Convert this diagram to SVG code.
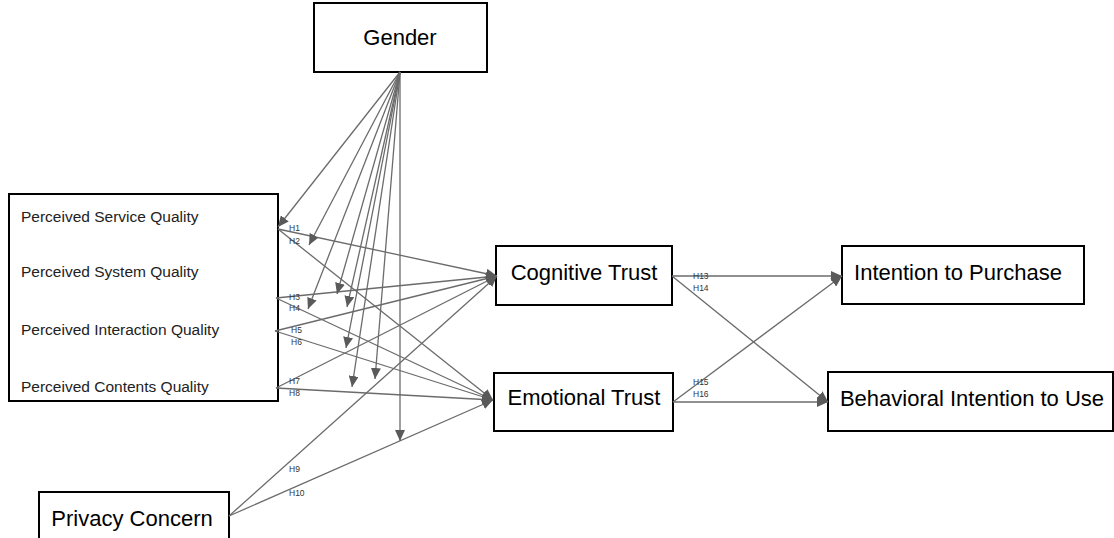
<svg xmlns="http://www.w3.org/2000/svg" width="1114" height="538" viewBox="0 0 1114 538">
<style>
.box{fill:#fff;stroke:#000;stroke-width:2}
.big{font-family:"Liberation Sans",Arial,sans-serif;font-size:22px;fill:#000}
.small{font-family:"Liberation Sans",Arial,sans-serif;font-size:15.5px;fill:#222}
.h{font-family:"Liberation Sans",Arial,sans-serif;font-size:8.5px;fill:#333}
.c{fill:none;stroke:#6b6b6b;stroke-width:1.3;marker-end:url(#ah)}
</style>
<defs>
<marker id="ah" markerUnits="userSpaceOnUse" markerWidth="12" markerHeight="10" refX="11" refY="5" orient="auto">
<path d="M0,0 L11,5 L0,10 Z" fill="#5a5a5a"/>
</marker>
</defs>
<rect width="1114" height="538" fill="#fff"/>
<g id="gender"><rect class="box" x="314" y="3" width="173" height="69"/><text class="big" x="400" y="45" text-anchor="middle">Gender</text></g>
<g id="quality"><rect class="box" x="9" y="194" width="269" height="207"/>
<text class="small" x="21" y="222">Perceived Service Quality</text>
<text class="small" x="21" y="277">Perceived System Quality</text>
<text class="small" x="21" y="335">Perceived Interaction Quality</text>
<text class="small" x="21" y="392">Perceived Contents Quality</text></g>
<g id="privacy"><rect class="box" x="39" y="492" width="190" height="60"/><text class="big" x="132" y="526" text-anchor="middle">Privacy Concern</text></g>
<g id="cognitive"><rect class="box" x="496" y="246" width="176" height="59"/><text class="big" x="584" y="280" text-anchor="middle">Cognitive Trust</text></g>
<g id="emotional"><rect class="box" x="494" y="373" width="179" height="58"/><text class="big" x="584" y="405" text-anchor="middle">Emotional Trust</text></g>
<g id="purchase"><rect class="box" x="842" y="246" width="242" height="58"/><text class="big" x="958" y="280" text-anchor="middle">Intention to Purchase</text></g>
<g id="behavioral"><rect class="box" x="828" y="372" width="285" height="59"/><text class="big" x="972" y="406" text-anchor="middle">Behavioral Intention to Use</text></g>
<g id="connectors">
<line class="c" x1="278" y1="229" x2="497" y2="276"/>
<line class="c" x1="278" y1="229" x2="493" y2="400"/>
<line class="c" x1="276" y1="298" x2="497" y2="276"/>
<line class="c" x1="276" y1="298" x2="493" y2="400"/>
<line class="c" x1="275" y1="331" x2="497" y2="276"/>
<line class="c" x1="275" y1="331" x2="493" y2="400"/>
<line class="c" x1="276" y1="388" x2="497" y2="276"/>
<line class="c" x1="276" y1="388" x2="493" y2="400"/>
<line class="c" x1="229" y1="516" x2="497" y2="276"/>
<line class="c" x1="229" y1="516" x2="493" y2="400"/>
<line class="c" x1="672" y1="276" x2="842" y2="276"/>
<line class="c" x1="672" y1="276" x2="828" y2="402"/>
<line class="c" x1="673" y1="402" x2="842" y2="276"/>
<line class="c" x1="673" y1="402" x2="828" y2="402"/>
<line class="c" x1="400" y1="72" x2="278" y2="227"/>
<line class="c" x1="400" y1="72" x2="309" y2="245"/>
<line class="c" x1="400" y1="72" x2="337" y2="294"/>
<line class="c" x1="400" y1="72" x2="308" y2="309"/>
<line class="c" x1="400" y1="72" x2="347" y2="307"/>
<line class="c" x1="400" y1="72" x2="346" y2="348"/>
<line class="c" x1="400" y1="72" x2="352" y2="387"/>
<line class="c" x1="400" y1="72" x2="375" y2="379"/>
<line class="c" x1="400" y1="72" x2="400" y2="441"/>
</g>
<g id="labels">
<text class="h" x="289" y="231">H1</text>
<text class="h" x="289" y="244">H2</text>
<text class="h" x="289" y="300">H3</text>
<text class="h" x="289" y="311">H4</text>
<text class="h" x="291" y="333">H5</text>
<text class="h" x="291" y="345">H6</text>
<text class="h" x="289" y="384">H7</text>
<text class="h" x="289" y="396">H8</text>
<text class="h" x="289" y="472">H9</text>
<text class="h" x="289" y="496">H10</text>
<text class="h" x="693" y="279">H13</text>
<text class="h" x="693" y="291">H14</text>
<text class="h" x="693" y="385">H15</text>
<text class="h" x="693" y="397">H16</text>
</g>
</svg>
